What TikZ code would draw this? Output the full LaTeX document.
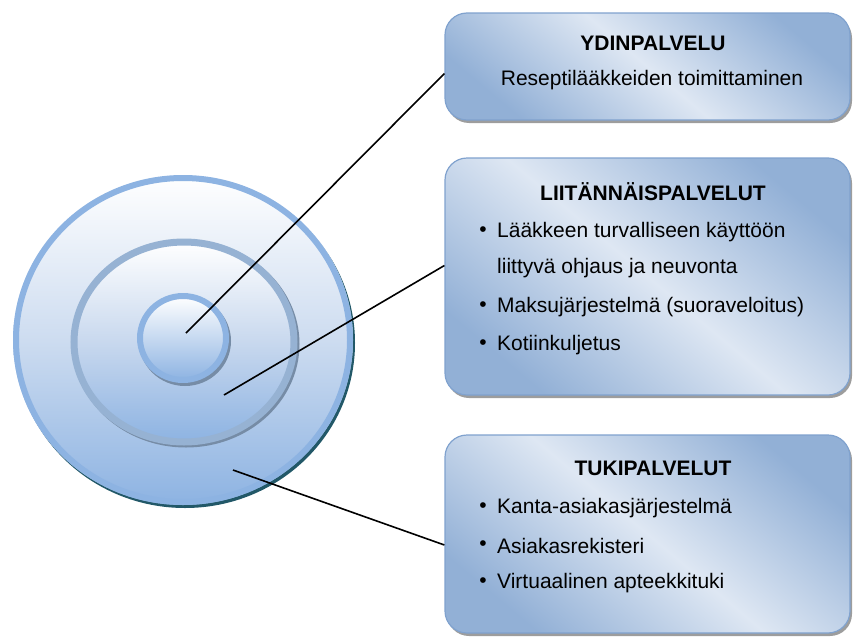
\documentclass[tikz,border=0pt]{standalone}
\usepackage{fontspec}
\setmainfont{Liberation Sans}
\usetikzlibrary{calc,shadows}

\definecolor{discblue}{RGB}{141,179,226}
\definecolor{ringgray}{RGB}{150,178,211}
\definecolor{rimteal}{RGB}{34,88,104}
\definecolor{ringshadow}{RGB}{118,140,166}
\definecolor{boxdark}{RGB}{146,176,214}
\definecolor{boxlight}{RGB}{222,231,243}
\definecolor{boxedge}{RGB}{128,162,206}

\begin{document}
\begin{tikzpicture}[x=1pt,y=-1pt,
  txt/.style={font=\fontsize{21}{24}\selectfont, inner sep=0pt},
  ttl/.style={txt, font=\fontsize{21}{24}\selectfont\bfseries},
  bul/.style={txt, anchor=center},
  item/.style={txt, anchor=west},
  infobox/.style={draw=boxedge, line width=1.2pt, rounded corners=22pt,
    top color=boxdark, bottom color=boxdark, middle color=boxlight,
    shading angle=-40, inner sep=0pt,
    drop shadow={shadow xshift=2pt, shadow yshift=-3pt, fill=black!55, opacity=0.7}},
  leader/.style={line width=1.6pt, black}
]
\useasboundingbox (0,0) rectangle (853,637);

% target disc: outer disc with teal rim shadow
\fill[rimteal] (185,343) ellipse [x radius=170, y radius=165];
\shade[top color=white, bottom color=discblue, middle color={rgb,255:red,205;green,220;blue,240}]
  (183,340) ellipse [x radius=170, y radius=165];
\draw[discblue, line width=6pt] (183,340) ellipse [x radius=167, y radius=162];

% middle ring
\draw[ringshadow, line width=7pt] (186,344) ellipse [x radius=110, y radius=100];
\shade[top color=white, bottom color=discblue, middle color={rgb,255:red,200;green,216;blue,238}]
  (184,342) ellipse [x radius=110, y radius=100];
\draw[ringgray, line width=7pt] (184,342) ellipse [x radius=110, y radius=100];

% core
\draw[ringshadow, line width=6pt] (185,341) ellipse [x radius=43, y radius=42];
\shade[top color=white, bottom color=discblue]
  (183,338) ellipse [x radius=43, y radius=42];
\draw[discblue, line width=6pt] (183,338) ellipse [x radius=43, y radius=42];

% leader end points inside the disc
\coordinate (pcore) at (186,333);
\coordinate (pring) at (224,395);
\coordinate (pouter) at (233,470);

% boxes
\node[infobox, minimum width=405pt, minimum height=107pt] (ydin) at (647.5,66.5) {};
\node[infobox, minimum width=405pt, minimum height=237pt] (liit) at (647.5,276.5) {};
\node[infobox, minimum width=405pt, minimum height=198pt] (tuki) at (647.5,534) {};

% connectors
\draw[leader] (pcore) -- ([yshift=-7pt]ydin.west);
\draw[leader] (pring) -- ([yshift=11pt]liit.west);
\draw[leader] (pouter) -- ([yshift=-11pt]tuki.west);

% texts
\node[ttl] (t1) at (653,43) {YDINPALVELU};
\node[txt] (t1a) at (652,80) {Reseptilääkkeiden toimittaminen};

\node[ttl] (t2) at (653,192) {LIITÄNNÄISPALVELUT};
\node[bul] (b21) at (483,232) {\textbullet};
\node[item] (i21) at (497,232) {Lääkkeen turvalliseen käyttöön};
\node[item] (i21b) at (497,268) {liittyvä ohjaus ja neuvonta};
\node[bul] (b22) at (483,307) {\textbullet};
\node[item] (i22) at (497,307) {Maksujärjestelmä (suoraveloitus)};
\node[bul] (b23) at (483,345) {\textbullet};
\node[item] (i23) at (497,345) {Kotiinkuljetus};

\node[ttl] (t3) at (653,468) {TUKIPALVELUT};
\node[bul] (b31) at (483,508) {\textbullet};
\node[item] (i31) at (497,508) {Kanta-asiakasjärjestelmä};
\node[bul] (b32) at (483,546) {\textbullet};
\node[item] (i32) at (497,546) {Asiakasrekisteri};
\node[bul] (b33) at (483,583) {\textbullet};
\node[item] (i33) at (497,583) {Virtuaalinen apteekkituki};
\end{tikzpicture}
\end{document}
